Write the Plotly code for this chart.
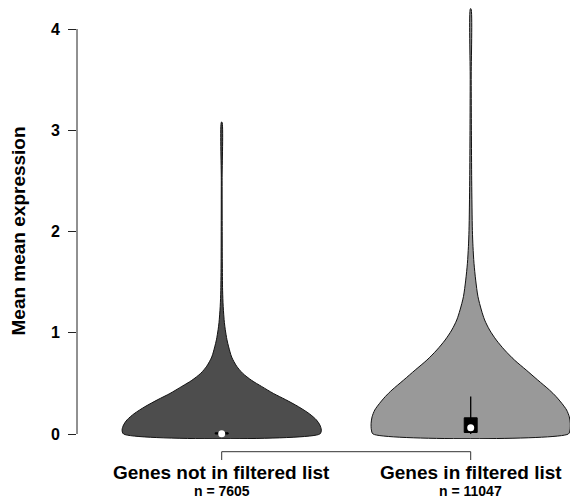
import plotly.graph_objects as go

# ---------------- data ----------------
categories = ["Genes not in filtered list", "Genes in filtered list"]
counts = [7605, 11047]
positions = [1, 2]
fill_colors = ["#4d4d4d", "#999999"]

# density profile (relative half-width, max = 1)
dens_y_not = [0, 0.04, 0.09, 0.14, 0.20, 0.27, 0.34, 0.40, 0.47, 0.53, 0.60, 0.67,
              0.76, 0.86, 0.93, 1.03, 1.10, 1.26, 1.42, 1.7, 2.0, 2.5, 3.08]
dens_w_not = [0.985, 1.0, 0.985, 0.95, 0.88, 0.77, 0.64, 0.52, 0.40, 0.30, 0.21, 0.15,
              0.10, 0.07, 0.053, 0.036, 0.027, 0.015, 0.009, 0.006, 0.005, 0.004, 0.003]

dens_y_in = [0, 0.04, 0.105, 0.17, 0.237, 0.30, 0.37, 0.435, 0.533, 0.632, 0.73, 0.83,
             0.928, 1.027, 1.126, 1.225, 1.356, 1.52, 1.686, 1.85, 2.01, 2.5, 3.0, 3.5, 4.2]
dens_w_in = [0.98, 0.997, 1.0, 0.99, 0.963, 0.917, 0.857, 0.79, 0.673, 0.557, 0.44, 0.34,
             0.257, 0.19, 0.14, 0.107, 0.073, 0.05, 0.033, 0.023, 0.017, 0.01, 0.007, 0.005, 0.003]

# box summary
q1 = [0.0, 0.015]
q3 = [0.012, 0.16]
medians = [0.002, 0.062]
whisk_lo = [0.0, 0.0]
whisk_hi = [0.03, 0.37]

y_ticks = [0, 1, 2, 3, 4]

# ---------------- style ----------------
HALF_W = 0.4
BOX_HW = 0.026
FONT = "Liberation Sans, Arial, sans-serif"

fig = go.Figure()

profiles = [(dens_y_not, dens_w_not), (dens_y_in, dens_w_in)]
for i, (ys, ws) in enumerate(profiles):
    c = positions[i]
    left_x = [c - w * HALF_W for w in ws]
    right_x = [c + w * HALF_W for w in ws]
    xs = left_x + right_x[::-1] + [left_x[0]]
    yy = list(ys) + list(ys[::-1]) + [ys[0]]
    fig.add_trace(go.Scatter(
        x=xs, y=yy, mode="lines", fill="toself", fillcolor=fill_colors[i],
        line=dict(color="#111111", width=1, shape="spline", smoothing=0.8),
        hoverinfo="skip", showlegend=False))

for i, c in enumerate(positions):
    fig.add_trace(go.Scatter(
        x=[c, c], y=[whisk_lo[i], whisk_hi[i]], mode="lines",
        line=dict(color="black", width=1.3), hoverinfo="skip", showlegend=False))
    fig.add_trace(go.Scatter(
        x=[c - BOX_HW, c + BOX_HW, c + BOX_HW, c - BOX_HW, c - BOX_HW],
        y=[q1[i], q1[i], q3[i], q3[i], q1[i]], mode="lines", fill="toself",
        fillcolor="black", line=dict(color="black", width=1),
        hoverinfo="skip", showlegend=False))
    fig.add_trace(go.Scatter(
        x=[c], y=[medians[i]], mode="markers",
        marker=dict(color="white", size=7, line=dict(width=0)),
        hoverinfo="skip", showlegend=False, cliponaxis=False))

# plot geometry
L, R, T, B = 77, 0, 0, 62
W, H = 570, 501
plot_h = H - T - B
px_per_unit = 101.25
y_min = -(plot_h - 434) / px_per_unit
y_max = 434 / px_per_unit
px_per_x = 249
x_min = 1 - (221.7 - L) / px_per_x
x_max = 2 + (W - 470.7) / px_per_x

def paper_y(pix):
    return (plot_h - pix) / plot_h

# y axis line (only between first and last tick)
fig.add_shape(type="line", xref="paper", yref="y", x0=0, x1=0,
              y0=y_ticks[0], y1=y_ticks[-1], line=dict(color="#222", width=1))

# x axis bracket
yb = paper_y(451.7)
yt = paper_y(460)
fig.add_shape(type="line", xref="x", yref="paper", x0=positions[0], x1=positions[-1],
              y0=yb, y1=yb, line=dict(color="#333", width=1))
for c in positions:
    fig.add_shape(type="line", xref="x", yref="paper", x0=c, x1=c,
                  y0=yb, y1=yt, line=dict(color="#333", width=1))

for i, c in enumerate(positions):
    fig.add_annotation(x=c, xref="x", y=paper_y(472), yref="paper",
                       text="<b>" + categories[i] + "</b>", showarrow=False,
                       font=dict(family=FONT, size=19, color="black"),
                       xanchor="center", yanchor="middle")
    fig.add_annotation(x=c, xref="x", y=paper_y(491), yref="paper",
                       text="<b>n = " + str(counts[i]) + "</b>", showarrow=False,
                       font=dict(family=FONT, size=14, color="black"),
                       xanchor="center", yanchor="middle")

fig.add_annotation(x=(18 - L) / (W - L - R), xref="paper", y=2, yref="y",
                   text="<b>Mean mean expression</b>", textangle=-90, showarrow=False,
                   font=dict(family=FONT, size=19, color="black"),
                   xanchor="center", yanchor="middle")

fig.update_layout(
    width=W, height=H,
    margin=dict(l=L, r=R, t=T, b=B, pad=0),
    paper_bgcolor="white", plot_bgcolor="white",
    xaxis=dict(range=[x_min, x_max], showgrid=False, zeroline=False,
               showline=False, showticklabels=False, ticks=""),
    yaxis=dict(range=[y_min, y_max], showgrid=False, zeroline=False, showline=False,
               tickvals=y_ticks, ticktext=["<b>%d</b>" % v for v in y_ticks],
               ticks="outside", ticklen=8, tickwidth=1, tickcolor="#222",
               ticklabelstandoff=5,
               tickfont=dict(family=FONT, size=16, color="black")),
    showlegend=False,
)

fig.write_html("out.html")
